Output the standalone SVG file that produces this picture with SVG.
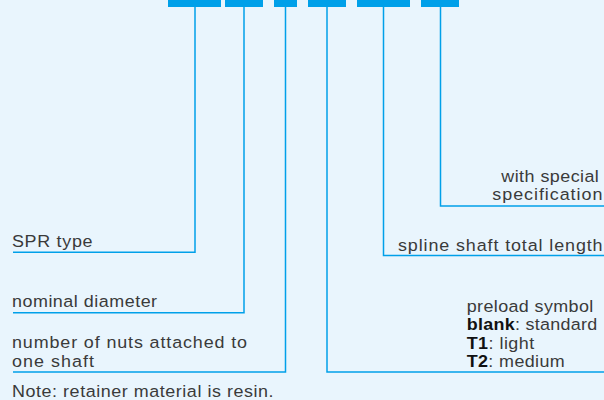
<svg xmlns="http://www.w3.org/2000/svg" width="604" height="400" viewBox="0 0 604 400">
<style>
.bg{fill:#e9f5fd}
.bar{fill:#00a0e9}
.ln{fill:none;stroke:#00a0e9;stroke-width:1.5}
.t{font-family:"Liberation Sans",Arial,sans-serif;font-size:16.3px;letter-spacing:0.4px;fill:#3a3a3a}
.b{font-weight:bold;fill:#111}
</style>
<rect class="bg" x="0" y="0" width="604" height="400"/>
<g id="connectors">
<path class="ln" d="M195 7V252.3H13"/>
<path class="ln" d="M244 7V312.7H13"/>
<path class="ln" d="M285.5 7V372H13"/>
<path class="ln" d="M327 7V372H604"/>
<path class="ln" d="M383.5 7V255.5H604"/>
<path class="ln" d="M440.5 7V206H604"/>
</g>
<g id="box-type"><rect class="bar" x="168" y="0" width="53" height="7"/></g>
<g id="box-diameter"><rect class="bar" x="225" y="0" width="38" height="7"/></g>
<g id="box-nuts"><rect class="bar" x="274" y="0" width="23" height="7"/></g>
<g id="box-preload"><rect class="bar" x="308" y="0" width="38" height="7"/></g>
<g id="box-length"><rect class="bar" x="357" y="0" width="53" height="7"/></g>
<g id="box-special"><rect class="bar" x="421" y="0" width="38" height="7"/></g>
<g id="label-type"><text class="t" transform="translate(12 247) scale(1.1 1)" textLength="73.6" lengthAdjust="spacing">SPR type</text></g>
<g id="label-diameter"><text class="t" transform="translate(12 307) scale(1.1 1)" textLength="132.3" lengthAdjust="spacing">nominal diameter</text></g>
<g id="label-nuts"><text class="t" transform="translate(12 348) scale(1.1 1)" textLength="214.1" lengthAdjust="spacing">number of nuts attached to</text><text class="t" transform="translate(12 366.5) scale(1.1 1)" textLength="75" lengthAdjust="spacing">one shaft</text></g>
<g id="label-note"><text class="t" transform="translate(12 397) scale(1.1 1)" textLength="238.2" lengthAdjust="spacing">Note: retainer material is resin.</text></g>
<g id="label-special"><text class="t" transform="translate(501.3 182) scale(1.1 1)" textLength="89.1" lengthAdjust="spacing">with special</text><text class="t" transform="translate(492.3 200) scale(1.1 1)" textLength="100.5" lengthAdjust="spacing">specification</text></g>
<g id="label-length"><text class="t" transform="translate(398 250.5) scale(1.1 1)" textLength="186.4" lengthAdjust="spacing">spline shaft total length</text></g>
<g id="label-preload">
<text class="t" transform="translate(466.7 311.5) scale(1.1 1)" textLength="115.5" lengthAdjust="spacing">preload symbol</text>
<text class="t" transform="translate(466.7 330) scale(1.1 1)" textLength="119.1" lengthAdjust="spacing"><tspan class="b">blank</tspan>: standard</text>
<text class="t" transform="translate(466.7 348.5) scale(1.1 1)" textLength="61.8" lengthAdjust="spacing"><tspan class="b">T1</tspan>: light</text>
<text class="t" transform="translate(466.7 367) scale(1.1 1)" textLength="89.5" lengthAdjust="spacing"><tspan class="b">T2</tspan>: medium</text>
</g>
</svg>
